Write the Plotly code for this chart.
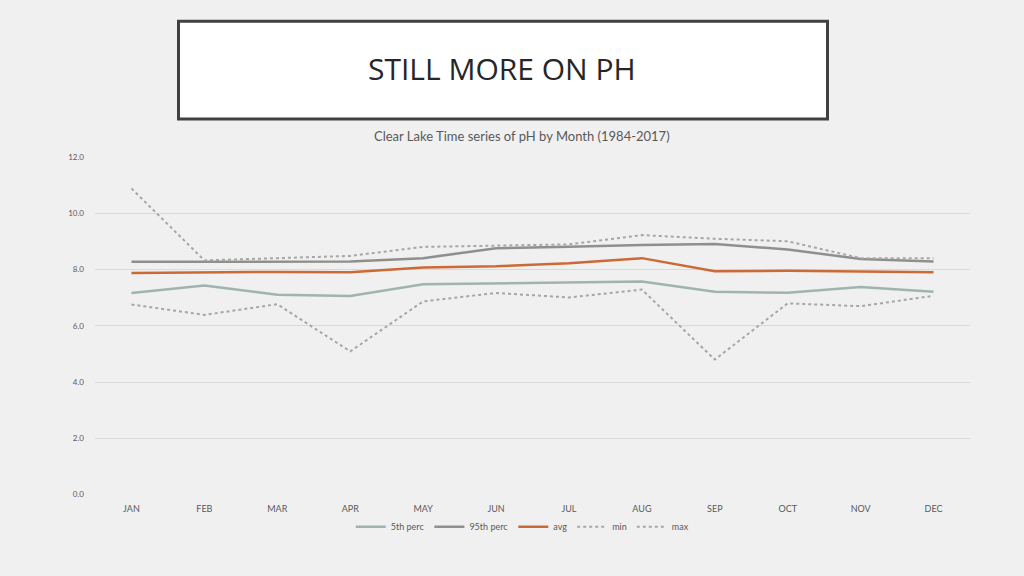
import plotly.graph_objects as go

months = ["JAN", "FEB", "MAR", "APR", "MAY", "JUN", "JUL", "AUG", "SEP", "OCT", "NOV", "DEC"]
p5 = [7.17, 7.44, 7.11, 7.06, 7.48, 7.52, 7.55, 7.58, 7.21, 7.18, 7.38, 7.21]
p95 = [8.28, 8.28, 8.28, 8.29, 8.41, 8.76, 8.82, 8.88, 8.91, 8.72, 8.38, 8.29]
avg = [7.88, 7.91, 7.92, 7.91, 8.08, 8.12, 8.23, 8.41, 7.94, 7.96, 7.93, 7.91]
vmin = [6.76, 6.39, 6.77, 5.09, 6.87, 7.17, 7.01, 7.29, 4.80, 6.80, 6.70, 7.07]
vmax = [10.89, 8.33, 8.41, 8.49, 8.81, 8.86, 8.90, 9.23, 9.10, 9.01, 8.41, 8.41]
yticks = [0, 2, 4, 6, 8, 10, 12]

series = [
    ("5th perc", p5, "#9fb4b0", 2.5, "solid"),
    ("95th perc", p95, "#8f8f8c", 2.5, "solid"),
    ("avg", avg, "#cc6a36", 2.5, "solid"),
    ("min", vmin, "#a6a6a6", 2, "dot"),
    ("max", vmax, "#a6a6a6", 2, "dot"),
]

fig = go.Figure()
for name, vals, color, w, dash in series:
    fig.add_trace(go.Scatter(x=months, y=vals, name=name, mode="lines",
                             line=dict(color=color, width=w, dash=dash)))

W, H = 1024, 576
fig.update_layout(
    width=W, height=H,
    margin=dict(l=0, r=0, t=0, b=0),
    paper_bgcolor="#f0f0f0", plot_bgcolor="#f0f0f0",
    font=dict(family="Lato, Open Sans, sans-serif", color="#595959"),
    showlegend=True,
    legend=dict(orientation="h", x=0.51, xanchor="center", y=1 - 531 / H, yanchor="middle",
                font=dict(size=9, color="#595959"), itemwidth=30, bgcolor="rgba(0,0,0,0)"),
    xaxis=dict(domain=[95 / W, 970 / W], range=[-0.5, 11.5], showgrid=False, zeroline=False,
               showline=False, tickfont=dict(size=9, color="#595959"), ticks="",
               ticklabelstandoff=8),
    yaxis=dict(domain=[(H - 498) / H, (H - 155) / H], range=[0, 12], tickvals=yticks,
               tickformat=".1f", gridcolor="#d9d9d9", gridwidth=1, zeroline=False, showline=False,
               tickfont=dict(size=8, color="#595959"), ticks="", ticklabelstandoff=10),
    shapes=[
        dict(type="rect", xref="paper", yref="paper", x0=178.5 / W, x1=827.5 / W,
             y0=1 - 116 / H, y1=1 - 16.5 / H, fillcolor="white",
             line=dict(color="#404040", width=3), layer="below"),
    ],
    annotations=[
        dict(text="STILL MORE ON PH", xref="paper", yref="paper", x=502 / W, y=1 - 65 / H,
             xanchor="center", yanchor="middle", showarrow=False,
             font=dict(size=30, color="#262626", family="Open Sans, sans-serif")),
        dict(text="Clear Lake Time series of pH by Month (1984-2017)", xref="paper", yref="paper",
             x=522 / W, y=1 - 133 / H, xanchor="center", yanchor="middle", showarrow=False,
             font=dict(size=13, color="#595959")),
    ],
)

fig.write_html("out.html", config={"displayModeBar": False},
               post_script="document.body.style.margin='0';document.body.style.overflow='hidden';")
